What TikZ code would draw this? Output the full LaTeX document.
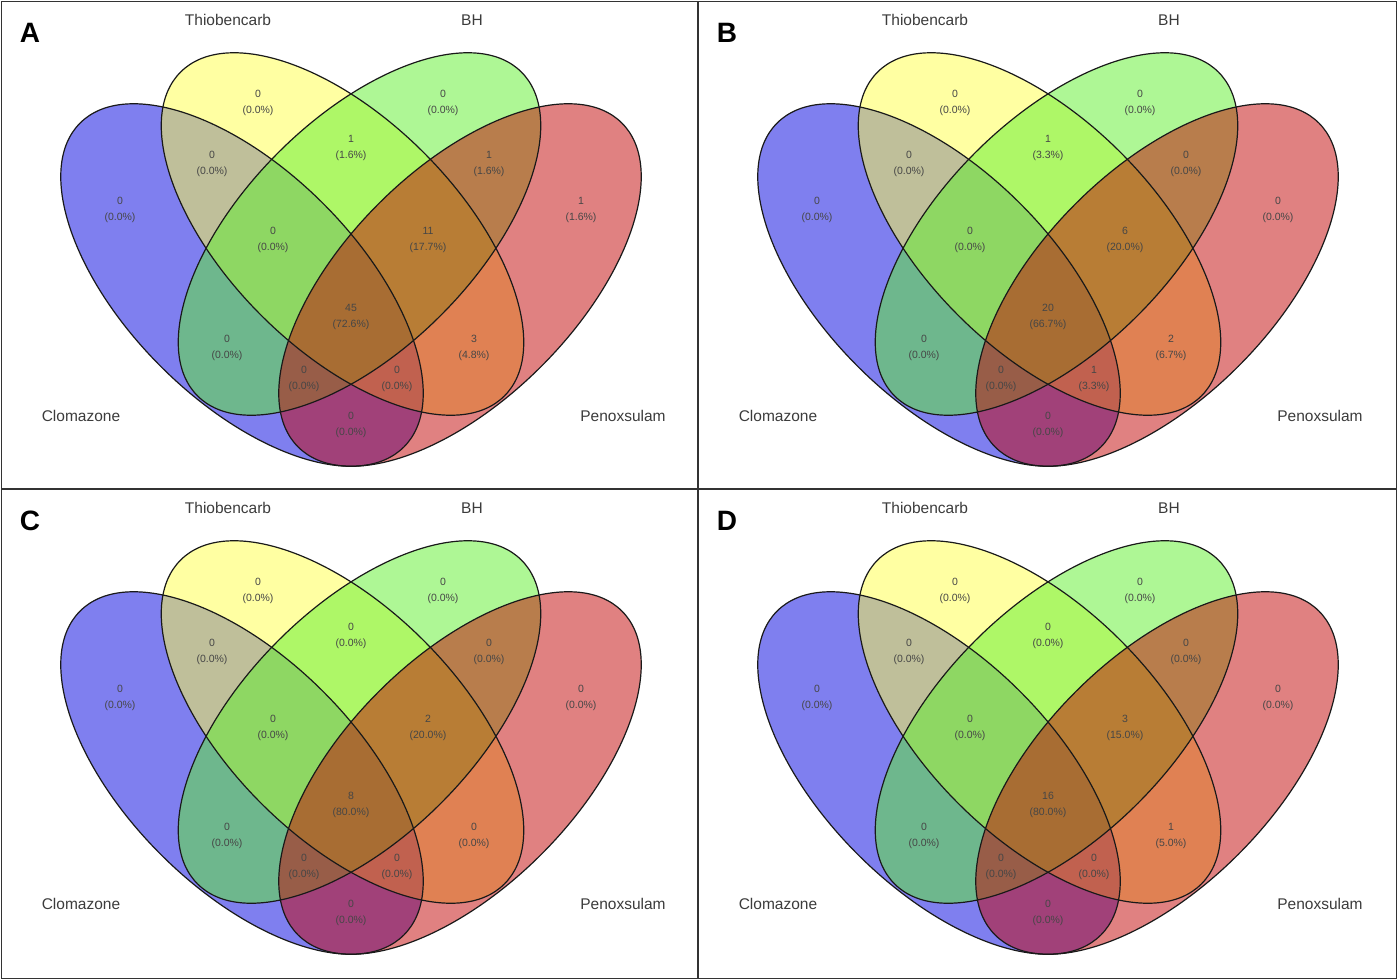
\documentclass[tikz,border=0pt]{standalone}
\usepackage{fontspec}
\setmainfont{Liberation Sans}
\definecolor{vblue}{RGB}{0,0,225}
\definecolor{vyellow}{RGB}{255,255,70}
\definecolor{vgreen}{RGB}{95,240,45}
\definecolor{vred}{RGB}{195,5,5}
\definecolor{settxt}{RGB}{60,60,60}
\definecolor{numtxt}{RGB}{70,70,70}
\tikzset{
  setfill/.style={fill opacity=0.5},
  setline/.style={draw=black!90, line width=1.2pt},
  num/.style={align=center, text=numtxt, font=\fontsize{10.5}{15.5}\selectfont, inner sep=0pt},
  setlab/.style={text=settxt, font=\fontsize{15.5}{18}\selectfont, inner sep=0pt},
  panellab/.style={text=black, font=\fontsize{28}{30}\selectfont\bfseries, inner sep=0pt},
  panelframe/.style={draw=black!80, line width=1.6pt}
}
% ellipse geometry (pixel units, y downwards)
\newcommand{\EA}{229}
\newcommand{\EB}{115}
\newcommand{\vennbase}[1]{%
  \fill[setfill, vblue, rotate around={-45:(242,285)}] (242,285) ellipse [x radius=\EA, y radius=\EB];
  \fill[setfill, vyellow, rotate around={-45:(342.5,234)}] (342.5,234) ellipse [x radius=\EA, y radius=\EB];
  \fill[setfill, vgreen, rotate around={45:(359.5,234)}] (359.5,234) ellipse [x radius=\EA, y radius=\EB];
  \fill[setfill, vred, rotate around={45:(460,285)}] (460,285) ellipse [x radius=\EA, y radius=\EB];
  \draw[setline, rotate around={-45:(242,285)}] (242,285) ellipse [x radius=\EA, y radius=\EB];
  \draw[setline, rotate around={-45:(342.5,234)}] (342.5,234) ellipse [x radius=\EA, y radius=\EB];
  \draw[setline, rotate around={45:(359.5,234)}] (359.5,234) ellipse [x radius=\EA, y radius=\EB];
  \draw[setline, rotate around={45:(460,285)}] (460,285) ellipse [x radius=\EA, y radius=\EB];
  \node[setlab] (#1-thio) at (228,20) {Thiobencarb};
  \node[setlab] (#1-bh) at (472,20) {BH};
  \node[setlab] (#1-clom) at (81,416) {Clomazone};
  \node[setlab] (#1-peno) at (623,416) {Penoxsulam};
  \node[panellab] (#1-letter) at (30,33) {#1};
}
% region label: name, x, y, count, percent
\newcommand{\reg}[5]{\node[num] (#1) at (#2,#3) {#4\\(#5\%)};}
\newcommand{\regions}[1]{%
  \foreach \nm/\px/\py/\cnt/\pct in {#1}{\reg{\nm}{\px}{\py}{\cnt}{\pct}}%
}
\begin{document}
\begin{tikzpicture}[x=1pt, y=-1pt]
\useasboundingbox (0,0) rectangle (1398,980);
\fill[white] (0,0) rectangle (1398,980);
% Panel A
\begin{scope}
\vennbase{A}
\regions{Ay/258/103/0/0.0, Ag/443/103/0/0.0, Ayg/351/148/1/1.6, Aby/212/164/0/0.0, Arg/489/164/1/1.6,
 Ab/120/210/0/0.0, Ar/581/210/1/1.6, Abyg/273/240/0/0.0, Aygr/428/240/11/17.7, Aall/351/317/45/72.6,
 Abg/227/348/0/0.0, Ayr/474/348/3/4.8, Abyr/304/379/0/0.0, Abgr/397/379/0/0.0, Abr/351/425/0/0.0}
\end{scope}
% Panel B
\begin{scope}[shift={(697,0)}]
\vennbase{B}
\regions{By/258/103/0/0.0, Bg/443/103/0/0.0, Byg/351/148/1/3.3, Bby/212/164/0/0.0, Brg/489/164/0/0.0,
 Bb/120/210/0/0.0, Br/581/210/0/0.0, Bbyg/273/240/0/0.0, Bygr/428/240/6/20.0, Ball/351/317/20/66.7,
 Bbg/227/348/0/0.0, Byr/474/348/2/6.7, Bbyr/304/379/0/0.0, Bbgr/397/379/1/3.3, Bbr/351/425/0/0.0}
\end{scope}
% Panel C
\begin{scope}[shift={(0,488)}]
\vennbase{C}
\regions{Cy/258/103/0/0.0, Cg/443/103/0/0.0, Cyg/351/148/0/0.0, Cby/212/164/0/0.0, Crg/489/164/0/0.0,
 Cb/120/210/0/0.0, Cr/581/210/0/0.0, Cbyg/273/240/0/0.0, Cygr/428/240/2/20.0, Call/351/317/8/80.0,
 Cbg/227/348/0/0.0, Cyr/474/348/0/0.0, Cbyr/304/379/0/0.0, Cbgr/397/379/0/0.0, Cbr/351/425/0/0.0}
\end{scope}
% Panel D
\begin{scope}[shift={(697,488)}]
\vennbase{D}
\regions{Dy/258/103/0/0.0, Dg/443/103/0/0.0, Dyg/351/148/0/0.0, Dby/212/164/0/0.0, Drg/489/164/0/0.0,
 Db/120/210/0/0.0, Dr/581/210/0/0.0, Dbyg/273/240/0/0.0, Dygr/428/240/3/15.0, Dall/351/317/16/80.0,
 Dbg/227/348/0/0.0, Dyr/474/348/1/5.0, Dbyr/304/379/0/0.0, Dbgr/397/379/0/0.0, Dbr/351/425/0/0.0}
\end{scope}
% frames
\draw[panelframe] (1.5,1.5) rectangle (1396.5,978.5);
\draw[panelframe] (698,1.5) -- (698,978.5);
\draw[panelframe] (1.5,489) -- (1396.5,489);
\end{tikzpicture}
\end{document}
